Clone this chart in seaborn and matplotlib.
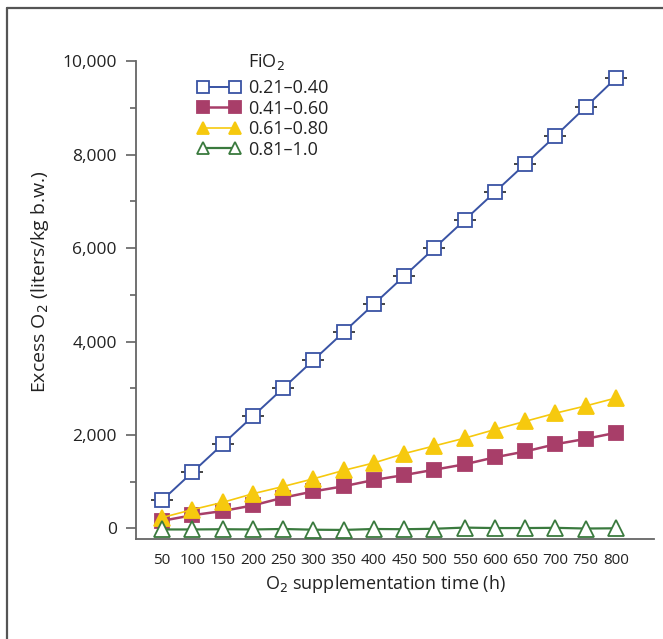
import matplotlib
matplotlib.use("Agg")
import matplotlib.pyplot as plt
import matplotlib.ticker as mticker
from matplotlib.lines import Line2D
import seaborn as sns
import pandas as pd

# O2 supplementation time (h)
hours = [50, 100, 150, 200, 250, 300, 350, 400, 450, 500, 550, 600, 650, 700, 750, 800]

# excess O2 (liters/kg b.w.) per FiO2 band
fio2_021_040 = [600, 1200, 1800, 2400, 3000, 3600, 4200, 4800, 5400, 6000, 6600, 7200, 7800, 8400, 9020, 9640]
fio2_041_060 = [160, 280, 370, 490, 655, 790, 900, 1035, 1140, 1255, 1370, 1520, 1645, 1800, 1915, 2045]
fio2_061_080 = [230, 400, 555, 740, 895, 1060, 1240, 1400, 1600, 1765, 1930, 2115, 2290, 2465, 2620, 2790]
fio2_081_100 = [-25, -25, -20, -25, -15, -30, -35, -15, -20, -10, 15, 5, 5, 10, -5, 0]

labels = ["0.21\u20130.40", "0.41\u20130.60", "0.61\u20130.80", "0.81\u20131.0"]

sns.set_style("white")
plt.rcParams["font.family"] = ["Open Sans", "DejaVu Sans"]

fig = plt.figure(figsize=(6.63, 6.39), dpi=100)
ax = fig.add_axes([0.2044, 0.156, 0.782, 0.748])

series = [
    (fio2_021_040, "#3953a4", "s", "white", 10.5, 1.4),
    (fio2_041_060, "#a83e69", "s", "#a83e69", 10, 1.8),
    (fio2_061_080, "#f6c90e", "^", "#f6c90e", 11.5, 1.2),
    (fio2_081_100, "#3a7a3e", "^", "white", 11.5, 1.6),
]

# small caps on the first series
ax.errorbar(hours, fio2_021_040, yerr=[0] * len(hours), fmt="none",
            ecolor="#444444", capsize=8, capthick=1.2, elinewidth=0, zorder=2)

for (vals, col, mk, fc, ms, lw), lab in zip(series, labels):
    df = pd.DataFrame({"hours": hours, "excess": vals})
    sns.lineplot(data=df, x="hours", y="excess", ax=ax, color=col, lw=lw,
                 marker=mk, markersize=ms, markerfacecolor=fc,
                 markeredgecolor=col, markeredgewidth=1.3, label=lab, zorder=3)

ax.set_xlim(6, 863)
ax.set_ylim(-236, 10000)
ax.set_xticks(hours)
ax.set_xticklabels([str(h) for h in hours], fontsize=11)
ax.yaxis.set_major_locator(mticker.MultipleLocator(2000))
ax.yaxis.set_minor_locator(mticker.MultipleLocator(1000))
ax.yaxis.set_major_formatter(mticker.FuncFormatter(lambda v, p: f"{int(v):,}"))
ax.tick_params(axis="x", length=0, pad=10, colors="#222222")
ax.tick_params(axis="y", which="major", left=True, length=7.5, width=1.1,
               color="#555555", labelsize=12.5, pad=6, labelcolor="#222222")
ax.tick_params(axis="y", which="minor", left=True, length=4.5, width=1.1, color="#555555")

for s in ["top", "right"]:
    ax.spines[s].set_visible(False)
for s in ["left", "bottom"]:
    ax.spines[s].set_color("#666666")
    ax.spines[s].set_linewidth(1.3)

ax.set_xlabel("O$_2$ supplementation time (h)", fontsize=13, color="#222222")
ax.xaxis.set_label_coords((385 - 135.5) / 518.5, -(573 - 539) / 478)
ax.set_ylabel("Excess O$_2$ (liters/kg b.w.)", fontsize=14, color="#222222")
ax.yaxis.set_label_coords(-(135.5 - 51) / 518.5, (539 - 281) / 478)

leg = ax.legend(loc="upper left", bbox_to_anchor=(0.105, 0.978), frameon=False,
                fontsize=13, handlelength=2.4, handletextpad=0.4, markerscale=0.8,
                labelspacing=0.14, borderaxespad=0, numpoints=2)
for t in leg.get_texts():
    t.set_color("#222222")
fig.text(248 / 663, 1 - 62 / 639, "FiO$_2$", fontsize=13, color="#222222",
         ha="left", va="center")

# outer frame of the original panel
fig.add_artist(Line2D([7 / 663, 1.0], [1 - 8 / 639, 1 - 8 / 639], color="#555555", lw=1.6))
fig.add_artist(Line2D([7 / 663, 7 / 663], [0, 1 - 8 / 639], color="#555555", lw=1.6))

fig.savefig("out.png", dpi=100)
plt.close(fig)
